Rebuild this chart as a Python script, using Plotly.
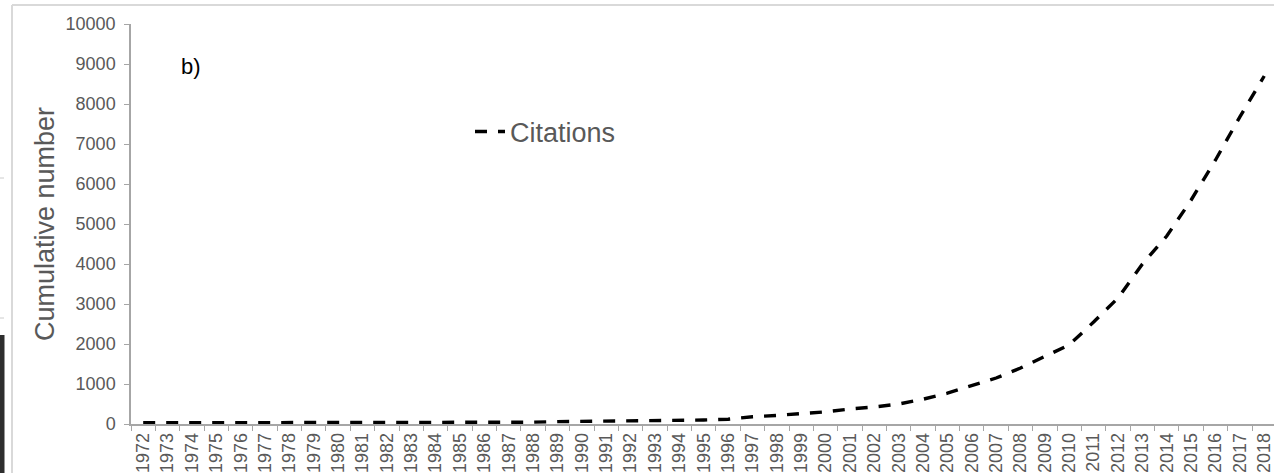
import plotly.graph_objects as go

years = ["1972", "1973", "1974", "1975", "1976", "1977", "1978", "1979", "1980",
         "1981", "1982", "1983", "1984", "1985", "1986", "1987", "1988", "1989",
         "1990", "1991", "1992", "1993", "1994", "1995", "1996", "1997", "1998",
         "1999", "2000", "2001", "2002", "2003", "2004", "2005", "2006", "2007",
         "2008", "2009", "2010", "2011", "2012", "2013", "2014", "2015", "2016",
         "2017", "2018"]

citations = [30, 30, 32, 32, 34, 34, 35, 36, 36, 38, 38, 40, 40, 40, 42, 42, 45,
             60, 65, 68, 70, 72, 78, 100, 120, 180, 215, 260, 305, 375, 425, 500,
             620, 770, 970, 1150, 1400, 1700, 1980, 2550, 3150, 4000, 4700, 5600,
             6600, 7680, 8700]

y_ticks = [0, 1000, 2000, 3000, 4000, 5000, 6000, 7000, 8000, 9000, 10000]
y_tick_text = ["0", "1000", "2000", "3000", "4000", "5000", "6000", "7000", "8000",
               "9000", "10000"]

W, H = 1274, 473
L, T, B = 131, 24, 49
PW = W - L
PH = H - T - B


def px_x(p):
    return (p - L) / PW


def px_y(p):
    return (H - B - p) / PH


fig = go.Figure()
fig.add_trace(go.Scatter(
    x=years, y=citations, mode="lines", name="Citations",
    line=dict(color="black", width=3.4, dash="12px,11px"),
))

axis_col = "#A6A6A6"
fig.update_layout(
    width=W, height=H,
    margin=dict(l=L, r=0, t=T, b=B),
    paper_bgcolor="white", plot_bgcolor="white",
    font=dict(family="Liberation Sans, Arial, sans-serif", color="#595959"),
    showlegend=True,
    legend=dict(x=px_x(470), y=px_y(132), xanchor="left", yanchor="middle",
                bgcolor="rgba(0,0,0,0)", font=dict(size=27, color="#595959")),
    xaxis=dict(type="category", range=[-0.5, 46.4], tickson="boundaries",
               ticks="outside", ticklen=5, tickcolor=axis_col, showline=True,
               linecolor=axis_col, linewidth=1.5, tickangle=-90,
               tickfont=dict(size=18, color="#595959"), showgrid=False,
               zeroline=False, automargin=False),
    yaxis=dict(range=[0, 10000], tickmode="array", tickvals=y_ticks,
               ticktext=y_tick_text,
               ticks="outside", ticklen=5, tickcolor=axis_col, showline=True,
               linecolor=axis_col, linewidth=1.5, showgrid=False, zeroline=False,
               tickfont=dict(size=18, color="#595959"), automargin=False,
               ticklabelstandoff=5,
               title=dict(text="Cumulative number",
                          font=dict(size=27, color="#595959"), standoff=3)),
    annotations=[dict(text="b)", x=px_x(179), y=px_y(52), xref="paper", yref="paper",
                      xanchor="left", showarrow=False,
                      font=dict(size=22, color="black"))],
    shapes=[
        dict(type="line", xref="paper", yref="paper", x0=px_x(12), x1=1.0,
             y0=px_y(5), y1=px_y(5), line=dict(color="#D9D9D9", width=2)),
        dict(type="line", xref="paper", yref="paper", x0=px_x(12), x1=px_x(12),
             y0=px_y(5), y1=px_y(473), line=dict(color="#D9D9D9", width=2)),
        dict(type="rect", xref="paper", yref="paper", x0=px_x(0), x1=px_x(4.5),
             y0=px_y(335), y1=px_y(473), fillcolor="#2E2E2E", line=dict(width=0)),
        dict(type="line", xref="paper", yref="paper", x0=px_x(0), x1=px_x(4),
             y0=px_y(178), y1=px_y(178), line=dict(color="#CCCCCC", width=1)),
        dict(type="line", xref="paper", yref="paper", x0=px_x(0), x1=px_x(4),
             y0=px_y(318), y1=px_y(318), line=dict(color="#CCCCCC", width=1)),
    ],
)

fig.write_html("out.html")
